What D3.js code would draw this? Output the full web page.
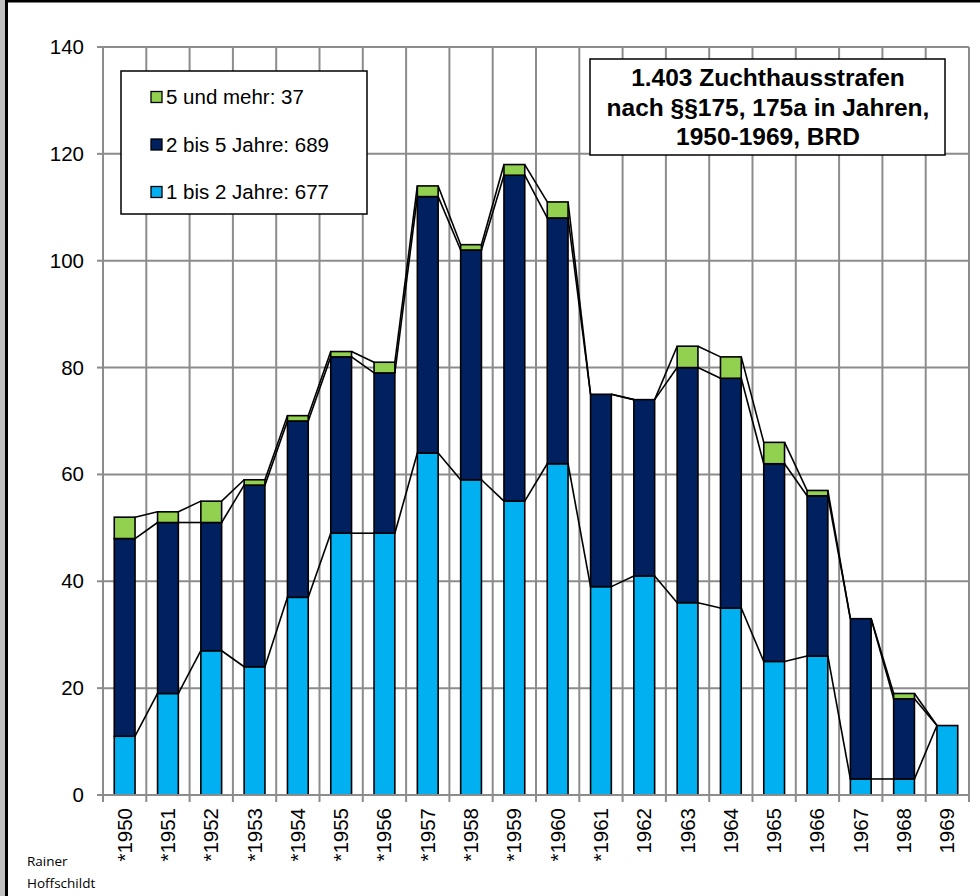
<!DOCTYPE html>
<html><head><meta charset="utf-8">
<script src="https://cdn.jsdelivr.net/npm/d3@7"></script>
<style>
html,body{margin:0;padding:0;background:#fff;}
svg{display:block;}
</style></head>
<body>
<svg id="chart" width="980" height="896"></svg>
<script>
const years = ["*1950","*1951","*1952","*1953","*1954","*1955","*1956","*1957","*1958","*1959","*1960","*1961","1962","1963","1964","1965","1966","1967","1968","1969"];
const einBisZwei = [11,19,27,24,37,49,49,64,59,55,62,39,41,36,35,25,26,3,3,13];
const zweiBisFuenf = [37,32,24,34,33,33,30,48,43,61,46,36,33,44,43,37,30,30,15,0];
const fuenfUndMehr = [4,2,4,1,1,1,2,2,1,2,3,0,0,4,4,4,1,0,1,0];
const seriesNames = ["1 bis 2 Jahre: 677","2 bis 5 Jahre: 689","5 und mehr: 37"];
const seriesColors = ["#00B0F0","#002060","#92D050"];
const yTicks = [0,20,40,60,80,100,120,140];
const titleLines = ["1.403 Zuchthausstrafen","nach §§175, 175a in Jahren,","1950-1969, BRD"];

const svg = d3.select("#chart");
const font = "'Liberation Sans', Arial, sans-serif";
const L = 103, R = 969, T = 47, B = 795;

// frame
svg.append("rect").attr("x",0).attr("y",0).attr("width",5).attr("height",896).attr("fill","#c0c0c0");
svg.append("rect").attr("x",5).attr("y",0).attr("width",3).attr("height",896).attr("fill","#000");
svg.append("rect").attr("x",5).attr("y",0).attr("width",975).attr("height",2.5).attr("fill","#000");

const x = d3.scaleBand().domain(years).range([L,R]).paddingInner(0.52).paddingOuter(0.26);
const xb = d3.scaleBand().domain(years).range([L,R]);
const y = d3.scaleLinear().domain([0,140]).range([B,T]);

const grid = svg.append("g");
grid.selectAll("line.h").data(yTicks).join("line")
  .attr("x1",L).attr("x2",R).attr("y1",d=>y(d)).attr("y2",d=>y(d))
  .attr("stroke","#8c8c8c").attr("stroke-width",2);
const bounds = years.map(d=>xb(d)).concat([R]);
grid.selectAll("line.v").data(bounds).join("line")
  .attr("x1",d=>d).attr("x2",d=>d).attr("y1",T).attr("y2",B+7)
  .attr("stroke","#8c8c8c").attr("stroke-width",2);
grid.selectAll("line.yt").data(yTicks).join("line")
  .attr("x1",L-6).attr("x2",L).attr("y1",d=>y(d)).attr("y2",d=>y(d))
  .attr("stroke","#8c8c8c").attr("stroke-width",2);

// y labels
svg.append("g").selectAll("text").data(yTicks).join("text")
  .attr("x",84).attr("y",d=>y(d)+7).attr("text-anchor","end")
  .attr("font-family",font).attr("font-size",20.5).attr("fill","#000").text(d=>d);

// stacked data
const rows = years.map((yr,i)=>({year:yr,a:einBisZwei[i],b:zweiBisFuenf[i],c:fuenfUndMehr[i]}));
const stack = d3.stack().keys(["a","b","c"])(rows);

// series lines
const lineG = svg.append("g");
stack.forEach(layer=>{
  for(let i=0;i<layer.length-1;i++){
    lineG.append("line")
      .attr("x1",x(years[i])+x.bandwidth()).attr("y1",y(layer[i][1]))
      .attr("x2",x(years[i+1])).attr("y2",y(layer[i+1][1]))
      .attr("stroke","#000").attr("stroke-width",1.6);
  }
});

// bars
const barG = svg.append("g");
stack.forEach((layer,k)=>{
  barG.selectAll(null).data(layer.filter(d=>d[1]-d[0]>0)).join("rect")
    .attr("x",d=>x(d.data.year)).attr("width",x.bandwidth())
    .attr("y",d=>y(d[1])).attr("height",d=>y(d[0])-y(d[1]))
    .attr("fill",seriesColors[k]).attr("stroke","#000").attr("stroke-width",1.6);
});

svg.append("line").attr("x1",L).attr("x2",R).attr("y1",B).attr("y2",B)
  .attr("stroke","#8c8c8c").attr("stroke-width",2);

// x labels
svg.append("g").selectAll("text").data(years).join("text")
  .attr("transform",d=>`translate(${x(d)+x.bandwidth()/2+7},808) rotate(-90)`)
  .attr("text-anchor","end").attr("font-family",font).attr("font-size",20.5).attr("fill","#000")
  .text(d=>d);

// legend
const lg = svg.append("g");
lg.append("rect").attr("x",121).attr("y",71).attr("width",246).attr("height",143)
  .attr("fill","#fff").attr("stroke","#000").attr("stroke-width",1.5);
const legendOrder = [2,1,0];
legendOrder.forEach((k,j)=>{
  const cy = 97 + j*47.5;
  lg.append("rect").attr("x",151).attr("y",cy-5.5).attr("width",11).attr("height",11)
    .attr("fill",seriesColors[k]).attr("stroke","#000").attr("stroke-width",1.3);
  lg.append("text").attr("x",166).attr("y",cy+7).attr("font-family",font)
    .attr("font-size",20.5).attr("fill","#000").text(seriesNames[k]);
});

// title box
const tg = svg.append("g");
tg.append("rect").attr("x",590).attr("y",59).attr("width",355).attr("height",96)
  .attr("fill","#fff").attr("stroke","#000").attr("stroke-width",1.5);
titleLines.forEach((t,i)=>{
  tg.append("text").attr("x",768).attr("y",86+i*29.5).attr("text-anchor","middle")
    .attr("font-family",font).attr("font-weight","bold").attr("font-size",24.5).attr("fill","#000").text(t);
});

// author
svg.append("text").attr("x",27).attr("y",866).attr("font-family","'Open Sans', 'Noto Sans', sans-serif")
  .attr("font-size",13.5).attr("fill","#000").text("Rainer");
svg.append("text").attr("x",27).attr("y",888).attr("font-family","'Open Sans', 'Noto Sans', sans-serif")
  .attr("font-size",13.5).attr("fill","#000").text("Hoffschildt");
</script>
</body></html>
